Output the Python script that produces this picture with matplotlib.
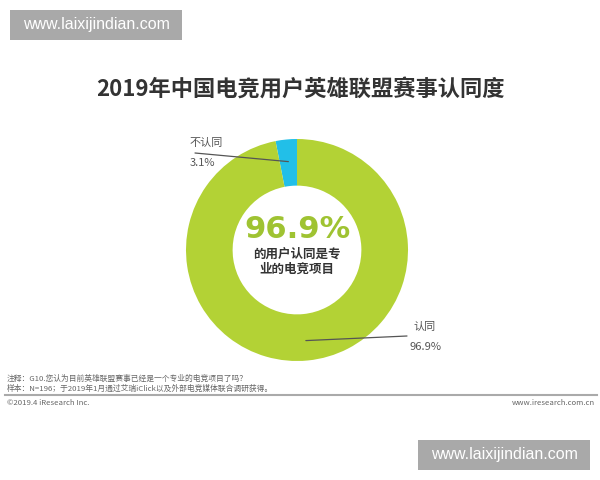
import numpy as np
import matplotlib
matplotlib.use('Agg')
import matplotlib.pyplot as plt
from matplotlib.patches import Rectangle

plt.rcParams['font.family'] = ['Noto Sans CJK SC', 'DejaVu Sans']

# data
categories = ['不认同', '认同']
shares = [3.1, 96.9]
colors = ['#22bfe8', '#b3d235']
title = '2019年中国电竞用户英雄联盟赛事认同度'
center_value = '96.9%'
center_text = '的用户认同是专\n业的电竞项目'
note1 = '注释：G10.您认为目前英雄联盟赛事已经是一个专业的电竞项目了吗？'
note2 = '样本：N=196；于2019年1月通过艾瑞iClick以及外部电竞媒体联合调研获得。'
watermark = 'www.laixijindian.com'

W, H = 600, 480
fig = plt.figure(figsize=(6, 4.8), dpi=100)
fig.patch.set_facecolor('white')

# donut: center (297, 250) px, radius 111 px
cx, cy, r = 297, 250, 111
ax = fig.add_axes([(cx - r) / W, (H - cy - r) / H, 2 * r / W, 2 * r / H])
wedges, _ = ax.pie(shares, colors=colors, startangle=90, counterclock=True,
                   radius=1.0, wedgeprops=dict(width=0.42, edgecolor='none'))
ax.set_xlim(-1, 1)
ax.set_ylim(-1, 1)
ax.set_aspect('equal')
ax.axis('off')

# leader lines from wedge middles
angles = np.cumsum([0] + shares)
mids = 90 + (angles[:-1] + angles[1:]) / 2 * 3.6
line_starts = [(195, H - 153), (407, H - 336)]
for mid, start, rad in zip(mids, line_starts, [0.8, 0.82]):
    a = np.deg2rad(mid)
    ax.annotate('', xy=(rad * np.cos(a), rad * np.sin(a)), xycoords='data',
                xytext=start, textcoords='figure pixels',
                arrowprops=dict(arrowstyle='-', color='#555555', lw=0.9,
                                shrinkA=0, shrinkB=0))

# slice labels
fig.text(190 / W, 1 - 143 / H, categories[0], fontsize=8, color='#555555',
         ha='left', va='center')
fig.text(190 / W, 1 - 163 / H, f'{shares[0]}%', fontsize=8, color='#555555',
         ha='left', va='center')
fig.text(413 / W, 1 - 327 / H, categories[1], fontsize=8, color='#555555',
         ha='left', va='center')
fig.text(410 / W, 1 - 347 / H, f'{shares[1]}%', fontsize=8, color='#555555',
         ha='left', va='center')

# center text
fig.text(cx / W, 1 - 229 / H, center_value, fontsize=22, fontweight='bold',
         color='#9fc332', ha='center', va='center', family='DejaVu Sans')
fig.text(cx / W, 1 - 262 / H, center_text, fontsize=9, fontweight='bold',
         color='#333333', ha='center', va='center', linespacing=1.25)

# title
fig.text(300 / W, 1 - 90 / H, title, fontsize=16, fontweight='bold',
         color='#333333', ha='center', va='center')

# notes and footer
fig.text(7 / W, 1 - 379 / H, note1, fontsize=5.6, color='#666666', ha='left', va='center')
fig.text(7 / W, 1 - 389 / H, note2, fontsize=5.6, color='#666666', ha='left', va='center')
fig.add_artist(plt.Line2D([5 / W, 597 / W], [1 - 395 / H, 1 - 395 / H],
                          color='#aaaaaa', lw=1.5))
fig.text(7 / W, 1 - 403 / H, '©2019.4 iResearch Inc.', fontsize=5.6, color='#666666',
         ha='left', va='center')
fig.text(595 / W, 1 - 403 / H, 'www.iresearch.com.cn', fontsize=5.6, color='#666666',
         ha='right', va='center')

# watermarks
for x0, y0 in [(10, 10), (418, 440)]:
    fig.add_artist(Rectangle((x0 / W, 1 - (y0 + 30) / H), 172 / W, 30 / H,
                             transform=fig.transFigure, facecolor='#a9a9a9',
                             edgecolor='none'))
    fig.text((x0 + 86) / W, 1 - (y0 + 15) / H, watermark, fontsize=11.5,
             color='white', ha='center', va='center', family='Liberation Sans')

fig.savefig('out.png', dpi=100, facecolor='white')
